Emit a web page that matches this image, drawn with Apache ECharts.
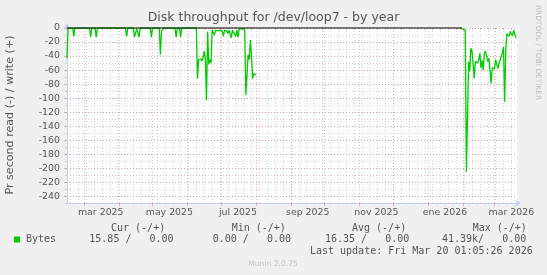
<!DOCTYPE html>
<html><head><meta charset="utf-8">
<script src="https://cdn.jsdelivr.net/npm/echarts@6/dist/echarts.min.js"></script>
<style>html,body{margin:0;padding:0;background:#f0f0f0;}#c{width:547px;height:275px;}</style>
</head><body><div id="c"></div>
<script>
// ---- data ----
const titleText = 'Disk throughput for /dev/loop7 - by year';
const yAxisName = 'Pr second read (-) / write (+)';
const startDate = '2025-02-14';       // left edge of the plot (day 0)
const totalDays = 400;                // right edge of the plot
const firstMonday = '2025-02-17';
const monthStartDates = ['2025-03-01','2025-04-01','2025-05-01','2025-06-01','2025-07-01','2025-08-01',
  '2025-09-01','2025-10-01','2025-11-01','2025-12-01','2026-01-01','2026-02-01','2026-03-01'];
const tickLabels = ['mar 2025','may 2025','jul 2025','sep 2025','nov 2025','ene 2026','mar 2026'];
const tickLabelDates = ['2025-03-16','2025-05-16','2025-07-16','2025-09-16','2025-11-16','2026-01-16','2026-03-16'];
const yTickValues = [0,-20,-40,-60,-80,-100,-120,-140,-160,-180,-200,-220,-240];
const yMin = -250, yMax = 0;

// read series (negative side): day offset from startDate, value
const readDays = [0,1, 5,6,7, 20,21,22, 25,26,27, 52,53,54, 59,60,62,64,65, 74,75,76, 82,83,84,85,86, 96,97,98, 100,101,102,
  115,116,117,118,119,120,121,122,123,124,125,126,127,128,129,130,131,132,134,136,138,139,140,142,143,144,146,147,148,150,151,152,153,155,158,
  159,160,161,162,163,164,165,166,168,169,
  349,350,354,355,357,358,359,360,361,362,363,365,366,367,368,369,370,371,372,374,375,376,377,378,380,381,382,383,384,385,387,388,389,390,391,393,394,395,396,397,398,399];
const readValues = [-43,0, 0,-12,0, 0,-13,0, 0,-13,0, 0,-12,0, 0,-13,-1,-13,0, 0,-13,0, 0,-38,-4,-4,0, 0,-13,0, 0,-13,0,
  0,-72,-45,-47,-44,-47,-42,-33,-45,-103,-5,-52,-45,-50,-3,-4,-10,-3,-4,-3,-4,-12,-3,-4,-8,-3,-14,-3,-2,-12,-3,-13,-2,-1,-2,
  -95,-93,-38,-45,-17,-40,-72,-65,-67,null,
  0,-2,-3,-205,-48,-62,-29,-33,-51,-72,-48,-50,-45,-36,-57,-46,-60,-36,-33,-48,-43,-44,-79,-57,-58,-45,-47,-58,-50,-52,-36,-27,-105,-32,-8,-12,-5,-3,-11,-3,-8,-14];
// write series (positive side) stays at zero
const writeDays = [0, 351];
const writeValues = [0, 0];

const legendName = 'Bytes';
const legendHeaders = ['Cur (-/+)','Min (-/+)','Avg (-/+)','Max (-/+)'];
const legendValues = ['15.85 /   0.00','0.00 /   0.00','16.35 /   0.00','41.39k/   0.00'];
const lastUpdate = 'Last update: Fri Mar 20 01:05:26 2026';
const footer = 'Munin 2.0.75';
const sideText = 'RRDTOOL / TOBI OETIKER';

// ---- helpers ----
const dayOf = s => (Date.parse(s + 'T00:00:00Z') - Date.parse(startDate + 'T00:00:00Z')) / 86400000;
const monthDays = monthStartDates.map(dayOf);
const labelDays = tickLabelDates.map(dayOf);
const weekDays = [];
for (let d = dayOf(firstMonday); d <= totalDays; d += 7) weekDays.push(d);

const FONT = 'DejaVu Sans', MONO = 'DejaVu Sans Mono';
const TEXT = '#555555';
const AXIS = '#c6cdf4';
const MINOR = 'rgba(150,150,150,0.4)';
const MAJOR = 'rgba(225,100,100,0.45)';
const GREEN = '#00cc00';

const chart = echarts.init(document.getElementById('c'), null, {renderer: 'canvas'});
const legendX = [111, 231.7, 352, 472.7];
const valueX = [89.3, 212.7, 325, 442];
const graphics = [
  {type:'text', x:273.5, y:18, style:{text:titleText, fill:TEXT, fontSize:12.5, fontFamily:FONT, align:'center', verticalAlign:'middle'}},
  {type:'text', x:10.5, y:115, rotation:Math.PI/2, style:{text:yAxisName, fill:TEXT, fontSize:11.1, fontFamily:FONT, align:'center', verticalAlign:'middle'}},
  {type:'text', x:538, y:52.5, rotation:-Math.PI/2, style:{text:sideText, fill:'#bbbbbb', fontSize:7.4, fontFamily:FONT, align:'center', verticalAlign:'middle'}},
  {type:'rect', shape:{x:14, y:236.5, width:6, height:6}, style:{fill:GREEN}},
  {type:'text', x:26, y:239.5, style:{text:legendName, fill:TEXT, fontSize:10, fontFamily:MONO, align:'left', verticalAlign:'middle'}},
  {type:'text', x:532.7, y:251, style:{text:lastUpdate, fill:TEXT, fontSize:10, fontFamily:MONO, align:'right', verticalAlign:'middle'}},
  {type:'text', x:273, y:264, style:{text:footer, fill:'#c4c4c4', fontSize:7.6, fontFamily:FONT, align:'center', verticalAlign:'middle'}}
];
legendHeaders.forEach((h, i) => graphics.push({type:'text', x:legendX[i], y:228, style:{text:h, fill:TEXT, fontSize:10, fontFamily:MONO, align:'left', verticalAlign:'middle'}}));
legendValues.forEach((v, i) => graphics.push({type:'text', x:valueX[i], y:239.5, style:{text:v, fill:TEXT, fontSize:10, fontFamily:MONO, align:'left', verticalAlign:'middle'}}));

const option = {
  animation: false,
  backgroundColor: '#f0f0f0',
  textStyle: {fontFamily: FONT},
  grid: {left:67, right:30, top:28, bottom:71.7, show:true, backgroundColor:'#ffffff', borderWidth:0, containLabel:false, outerBoundsMode:'none'},
  xAxis: [
    {type:'value', min:0, max:totalDays, position:'bottom',
      axisLine:{show:false},
      axisTick:{show:true, customValues:weekDays, length:2, lineStyle:{color:MINOR}},
      axisLabel:{show:false},
      splitLine:{show:true, lineStyle:{color:MINOR, width:1, type:[1,2]}}},
    {type:'value', min:0, max:totalDays, position:'bottom',
      axisLine:{show:true, onZero:false, lineStyle:{color:AXIS, width:1}, symbol:['none','arrow'], symbolSize:[5,6], symbolOffset:[0,4]},
      axisTick:{show:true, customValues:monthDays, length:3, lineStyle:{color:MAJOR}},
      axisLabel:{show:true, customValues:labelDays, color:TEXT, fontSize:9.4, fontFamily:FONT, margin:5,
        formatter: v => { let best = 0; labelDays.forEach((d, i) => { if (Math.abs(d - v) < Math.abs(labelDays[best] - v)) best = i; }); return tickLabels[best]; }},
      splitLine:{show:true, lineStyle:{color:MAJOR, width:1, type:[1,2]}}}
  ],
  yAxis: [
    {type:'value', min:yMin, max:yMax, interval:10, position:'left',
      axisLine:{show:true, onZero:false, lineStyle:{color:AXIS, width:1}, symbol:['none','arrow'], symbolSize:[5,6], symbolOffset:[0,5]},
      axisTick:{show:true, length:2, lineStyle:{color:MINOR}},
      axisLabel:{show:false},
      splitLine:{show:true, lineStyle:{color:MINOR, width:1, type:[1,2]}}},
    {type:'value', min:yMin, max:yMax, position:'left',
      axisLine:{show:false},
      axisTick:{show:true, customValues:yTickValues, length:3, lineStyle:{color:MAJOR}},
      axisLabel:{show:true, customValues:yTickValues, color:TEXT, fontSize:9.4, fontFamily:FONT, margin:7},
      splitLine:{show:true, lineStyle:{color:MAJOR, width:1, type:[1,2]}}}
  ],
  series: [
    {type:'line', name:legendName, xAxisIndex:1, yAxisIndex:0, symbol:'none', showSymbol:false, connectNulls:false,
      data: readDays.map((d, i) => [d, readValues[i]]), lineStyle:{color:GREEN, width:1.3}, itemStyle:{color:GREEN}, z:3},
    {type:'line', name:'write', xAxisIndex:1, yAxisIndex:0, symbol:'none', showSymbol:false, clip:false,
      data: writeDays.map((d, i) => [d, writeValues[i]]), lineStyle:{color:'#000000', width:1}, z:4}
  ],
  graphic: graphics
};
chart.setOption(option);
</script></body></html>
